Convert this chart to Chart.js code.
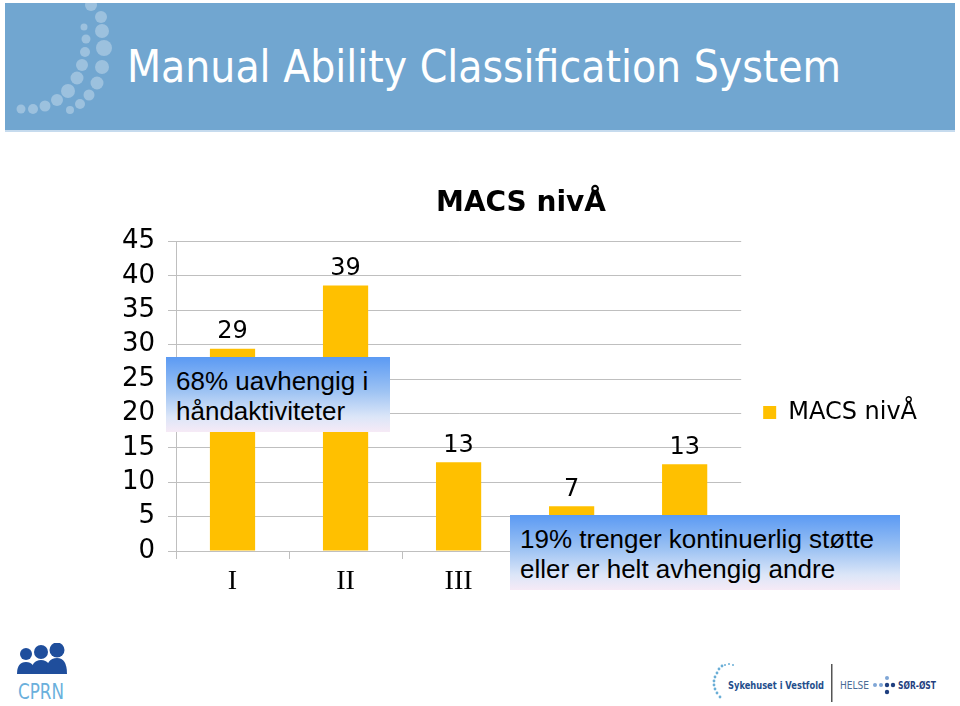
<!DOCTYPE html>
<html>
<head>
<meta charset="utf-8">
<script src="https://cdn.jsdelivr.net/npm/chart.js@4.4.1/dist/chart.umd.min.js"></script>
<style>
  html, body { margin: 0; padding: 0; background: #fff; }
  body { width: 960px; height: 706px; position: relative; overflow: hidden; }
  #header { position: absolute; left: 5px; top: 3px; width: 950px; height: 127px; background: #71a6d0; border-bottom: 2px solid #c6dbee; overflow: hidden; }
  #header svg { position: absolute; left: 0; top: 0; }
  #title { position: absolute; left: 122px; top: 38px; color: #fff; font: 44px "DejaVu Sans", sans-serif; white-space: nowrap; transform-origin: 0 0; }
  #chartWrap { position: absolute; left: 100px; top: 170px; width: 840px; height: 430px; }
  .note { position: absolute; font: 26px "Liberation Sans", Arial, sans-serif; color: #000; line-height: 30px; padding: 9px 10px 0 10px; box-sizing: border-box; overflow: hidden; white-space: nowrap;
          background: linear-gradient(to bottom, #5b9af3 0%, #9cc2f3 45%, #dce6f8 80%, #f6eaf6 100%); }
  #note1 { left: 166px; top: 357px; width: 224px; height: 75px; }
  #note2 { left: 510px; top: 515px; width: 390px; height: 75px; }
  #cprn { position: absolute; left: 14px; top: 643px; }
  #sthf { position: absolute; left: 708px; top: 660px; }
</style>
</head>
<body>
<div id="header">
  <svg width="140" height="127">
    <g fill="#ffffff" fill-opacity="0.3">
      <circle cx="86" cy="2" r="6"/>
      <circle cx="96" cy="14" r="6"/>
      <circle cx="97" cy="28" r="7"/>
      <circle cx="99" cy="45" r="8"/>
      <circle cx="97" cy="64" r="7"/>
      <circle cx="92" cy="80" r="6.5"/>
      <circle cx="84" cy="92" r="5.5"/>
      <circle cx="75" cy="101" r="5"/>
      <circle cx="65" cy="107" r="4"/>
      <circle cx="79" cy="24" r="3.5"/>
      <circle cx="81" cy="36" r="4.5"/>
      <circle cx="80" cy="49" r="5"/>
      <circle cx="77" cy="62" r="6"/>
      <circle cx="72" cy="75" r="6.5"/>
      <circle cx="63" cy="88" r="7"/>
      <circle cx="52" cy="97" r="6"/>
      <circle cx="40" cy="103" r="5.5"/>
      <circle cx="28" cy="106" r="5"/>
      <circle cx="16" cy="106" r="4.5"/>
    </g>
  </svg>
  <div id="title">Manual Ability Classification System</div>
</div>

<div id="chartWrap"><canvas id="macs"></canvas></div>

<div class="note" id="note1">68% uavhengig i<br>håndaktiviteter</div>
<div class="note" id="note2">19% trenger kontinuerlig støtte<br>eller er helt avhengig andre</div>

<svg id="cprn" width="60" height="64">
  <g fill="#1f4e9c">
    <circle cx="12" cy="11" r="6"/>
    <circle cx="27" cy="9" r="7"/>
    <circle cx="43" cy="7" r="7.5"/>
    <path d="M3 31 Q3 19 12 19 Q21 19 21 31 Z"/>
    <path d="M17 31 Q17 17 27 17 Q37 17 37 31 Z"/>
    <path d="M32 31 Q32 15 43 15 Q53 15 53 31 Z"/>
  </g>
  <text x="4" y="56" font-family="DejaVu Sans Condensed, DejaVu Sans" font-size="22" fill="#6ab0dc" textLength="46" lengthAdjust="spacingAndGlyphs">CPRN</text>
</svg>

<svg id="sthf" width="240" height="44">
  <g fill="#6aaed6">
    <circle cx="14" cy="6" r="1.4"/><circle cx="11" cy="9" r="1.4"/><circle cx="9" cy="13" r="1.4"/>
    <circle cx="7" cy="17" r="1.4"/><circle cx="6" cy="21" r="1.4"/><circle cx="6" cy="25" r="1.4"/>
    <circle cx="7" cy="29" r="1.4"/><circle cx="9" cy="33" r="1.4"/><circle cx="12" cy="37" r="1.4"/>
    <circle cx="17" cy="5" r="1"/><circle cx="21" cy="4" r="1"/><circle cx="25" cy="5" r="1"/>
  </g>
  <text x="20" y="29" font-family="DejaVu Sans Condensed, DejaVu Sans" font-weight="bold" font-size="11" fill="#1f4e8c" textLength="96" lengthAdjust="spacingAndGlyphs">Sykehuset i Vestfold</text>
  <rect x="123" y="4" width="1.5" height="38" fill="#555"/>
  <text x="132" y="29" font-family="DejaVu Sans" font-size="10.5" fill="#4a6b96" textLength="29" lengthAdjust="spacingAndGlyphs">HELSE</text>
  <g fill="#7fa6d6"><circle cx="167" cy="25" r="2"/><circle cx="173" cy="25" r="2"/><circle cx="179" cy="18" r="2"/></g>
  <g fill="#1f3f7f"><circle cx="179" cy="25" r="2.2"/><circle cx="185" cy="25" r="2.2"/><circle cx="179" cy="32" r="2.2"/></g>
  <text x="190" y="29" font-family="DejaVu Sans" font-weight="bold" font-size="10.5" fill="#1f3f7f" textLength="38" lengthAdjust="spacingAndGlyphs">SØR-ØST</text>
</svg>

<script>
"use strict";

// MACS-nivå og andel (prosent)
const levels = ["I", "II", "III", "IV", "V"];
const shares = [29.4, 38.6, 12.9, 6.5, 12.6];
const shareLabels = ["29", "39", "13", "7", "13"];
const seriesName = "MACS nivÅ";

// tittel i toppfeltet skal fylle samme bredde som originalen
const t = document.getElementById("title");
t.style.transform = "scaleX(" + (714 / t.offsetWidth) + ")";

const valueLabels = {
  id: "valueLabels",
  afterDatasetsDraw(chart) {
    const ctx = chart.ctx;
    const meta = chart.getDatasetMeta(0);
    ctx.save();
    ctx.font = '24px "DejaVu Sans"';
    ctx.fillStyle = "#000";
    ctx.textAlign = "center";
    ctx.textBaseline = "bottom";
    meta.data.forEach(function (bar, i) {
      ctx.fillText(shareLabels[i], bar.x, bar.y - 5);
    });
    ctx.restore();
  }
};

const gridGrey = "#bfbfbf";

new Chart(document.getElementById("macs"), {
  type: "bar",
  data: {
    labels: levels,
    datasets: [{
      label: seriesName,
      data: shares,
      backgroundColor: "#ffc000",
      barPercentage: 0.4,
      categoryPercentage: 1
    }]
  },
  options: {
    responsive: true,
    maintainAspectRatio: false,
    animation: false,
    layout: { padding: { left: 15, right: 13, top: 0, bottom: 7 } },
    plugins: {
      title: {
        display: true,
        text: seriesName,
        color: "#000",
        font: { family: "DejaVu Sans", size: 28, weight: "bold" },
        padding: { top: 17, bottom: 21 }
      },
      legend: {
        position: "right",
        title: { display: true, text: " ", font: { size: 16 }, padding: { top: 0, bottom: 43 } },
        labels: {
          color: "#000",
          boxWidth: 13,
          boxHeight: 13,
          padding: 22,
          font: { family: "DejaVu Sans", size: 24 }
        }
      },
      tooltip: { enabled: false }
    },
    scales: {
      y: {
        min: 0,
        max: 45,
        afterFit: function (s) { s.width = 61; },
        ticks: { stepSize: 5, color: "#000", padding: 13, font: { family: "DejaVu Sans", size: 26 } },
        grid: { color: gridGrey, tickLength: 8 },
        border: { color: gridGrey }
      },
      x: {
        afterFit: function (s) { s.height = 42; },
        ticks: { color: "#000", padding: 6, font: { family: "Liberation Serif", size: 28 } },
        grid: { drawOnChartArea: false, color: gridGrey, tickLength: 8 },
        border: { color: gridGrey }
      }
    }
  },
  plugins: [valueLabels]
});
</script>
</body>
</html>
